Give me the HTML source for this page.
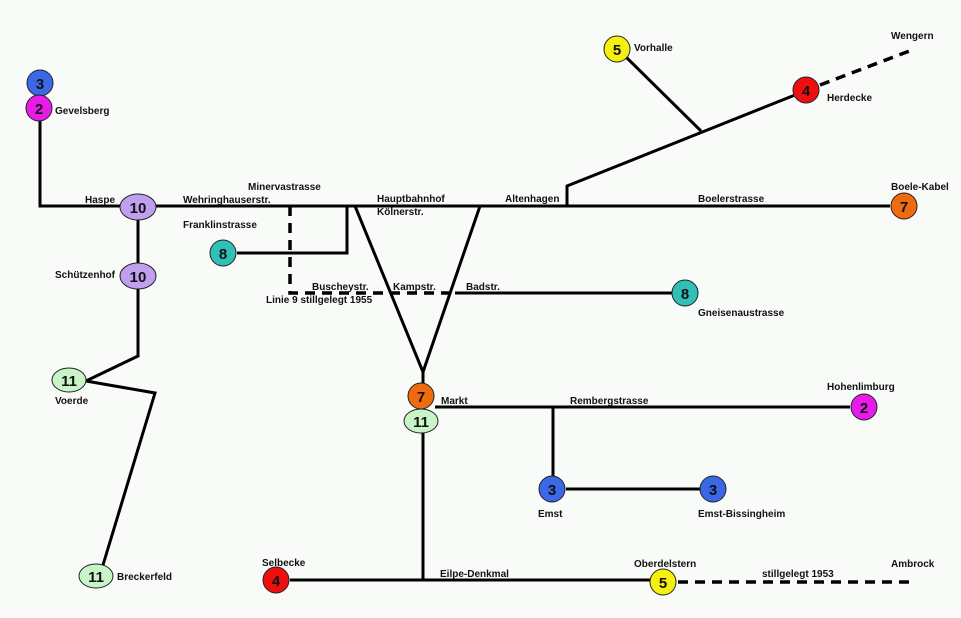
<!DOCTYPE html>
<html><head><meta charset="utf-8"><style>
html,body{margin:0;padding:0;background:#f9fbf9;}
svg{display:block;}
text{font-family:"Liberation Sans",Arial,sans-serif;font-weight:bold;font-size:10px;fill:#111;}
.n{font-size:15px;text-anchor:middle;fill:#111;font-weight:bold;}
</style></head><body>
<svg width="961" height="618" viewBox="0 0 961 618" xmlns="http://www.w3.org/2000/svg">
<rect width="961" height="618" fill="#f9fbf9"/>
<g stroke="#000" stroke-width="3" fill="none">
<polyline points="40,120 40,206 890,206"/>
<line x1="138" y1="218" x2="138" y2="264"/>
<polyline points="138,288 138,356 86,381"/>
<polyline points="86,381 155,393 103,565"/>
<polyline points="237,253 347,253 347,206"/>
<polyline points="355,206 423,372 480,206"/>
<line x1="423" y1="372" x2="423" y2="383"/>
<line x1="455" y1="293" x2="672" y2="293"/>
<line x1="435" y1="407" x2="850" y2="407"/>
<line x1="553" y1="407" x2="553" y2="476"/>
<line x1="566" y1="489" x2="700" y2="489"/>
<line x1="423" y1="433" x2="423" y2="580"/>
<line x1="290" y1="580" x2="650" y2="580"/>
<polyline points="567,206 567,186 795,95"/>
<line x1="626" y1="57" x2="701" y2="131"/>
</g>
<g stroke="#000" stroke-width="3.5" fill="none" stroke-dasharray="10,7">
<polyline points="290,206 290,293 455,293"/>
<line x1="678" y1="582" x2="910" y2="582"/>
<line x1="820" y1="85" x2="912" y2="50"/>
</g>
<g stroke="#222" stroke-width="1">
<circle cx="40" cy="83" r="13" fill="#3a68e6"/>
<circle cx="39" cy="108" r="13" fill="#e81ce8"/>
<ellipse cx="138" cy="207" rx="18" ry="13" fill="#c0a0ee"/>
<ellipse cx="138" cy="276" rx="18" ry="13" fill="#c0a0ee"/>
<ellipse cx="69" cy="380" rx="17" ry="12" fill="#c8f4c8"/>
<ellipse cx="96" cy="576" rx="17" ry="12" fill="#c8f4c8"/>
<circle cx="223" cy="253" r="13" fill="#30c0b8"/>
<circle cx="685" cy="293" r="13" fill="#30c0b8"/>
<circle cx="421" cy="396" r="13" fill="#f06a10"/>
<ellipse cx="421" cy="421" rx="17" ry="12" fill="#c8f4c8"/>
<circle cx="864" cy="407" r="13" fill="#e81ce8"/>
<circle cx="552" cy="489" r="13" fill="#3a68e6"/>
<circle cx="713" cy="489" r="13" fill="#3a68e6"/>
<circle cx="276" cy="580" r="13" fill="#ee1010"/>
<circle cx="663" cy="582" r="13" fill="#f5f010"/>
<circle cx="617" cy="49" r="13" fill="#f5f010"/>
<circle cx="806" cy="90" r="13" fill="#ee1010"/>
<circle cx="904" cy="206" r="13" fill="#f06a10"/>
</g>
<text class="n" x="40" y="89">3</text>
<text class="n" x="39" y="114">2</text>
<text class="n" x="138" y="213">10</text>
<text class="n" x="138" y="282">10</text>
<text class="n" x="69" y="386">11</text>
<text class="n" x="96" y="582">11</text>
<text class="n" x="223" y="259">8</text>
<text class="n" x="685" y="299">8</text>
<text class="n" x="421" y="402">7</text>
<text class="n" x="421" y="427">11</text>
<text class="n" x="864" y="413">2</text>
<text class="n" x="552" y="495">3</text>
<text class="n" x="713" y="495">3</text>
<text class="n" x="276" y="586">4</text>
<text class="n" x="663" y="588">5</text>
<text class="n" x="617" y="55">5</text>
<text class="n" x="806" y="96">4</text>
<text class="n" x="904" y="212">7</text>
<text x="55" y="114">Gevelsberg</text>
<text x="85" y="203">Haspe</text>
<text x="183" y="203">Wehringhauserstr.</text>
<text x="248" y="190">Minervastrasse</text>
<text x="183" y="228">Franklinstrasse</text>
<text x="55" y="278">Schützenhof</text>
<text x="55" y="404">Voerde</text>
<text x="117" y="580">Breckerfeld</text>
<text x="377" y="202">Hauptbahnhof</text>
<text x="377" y="215">Kölnerstr.</text>
<text x="505" y="202">Altenhagen</text>
<text x="698" y="202">Boelerstrasse</text>
<text x="891" y="190">Boele-Kabel</text>
<text x="312" y="290">Buscheystr.</text>
<text x="393" y="290">Kampstr.</text>
<text x="466" y="290">Badstr.</text>
<text x="266" y="303">Linie 9 stillgelegt 1955</text>
<text x="698" y="316">Gneisenaustrasse</text>
<text x="441" y="404">Markt</text>
<text x="570" y="404">Rembergstrasse</text>
<text x="827" y="390">Hohenlimburg</text>
<text x="538" y="517">Emst</text>
<text x="698" y="517">Emst-Bissingheim</text>
<text x="262" y="566">Selbecke</text>
<text x="440" y="577">Eilpe-Denkmal</text>
<text x="634" y="567">Oberdelstern</text>
<text x="762" y="577">stillgelegt 1953</text>
<text x="891" y="567">Ambrock</text>
<text x="634" y="51">Vorhalle</text>
<text x="827" y="101">Herdecke</text>
<text x="891" y="39">Wengern</text>
</svg>
</body></html>
